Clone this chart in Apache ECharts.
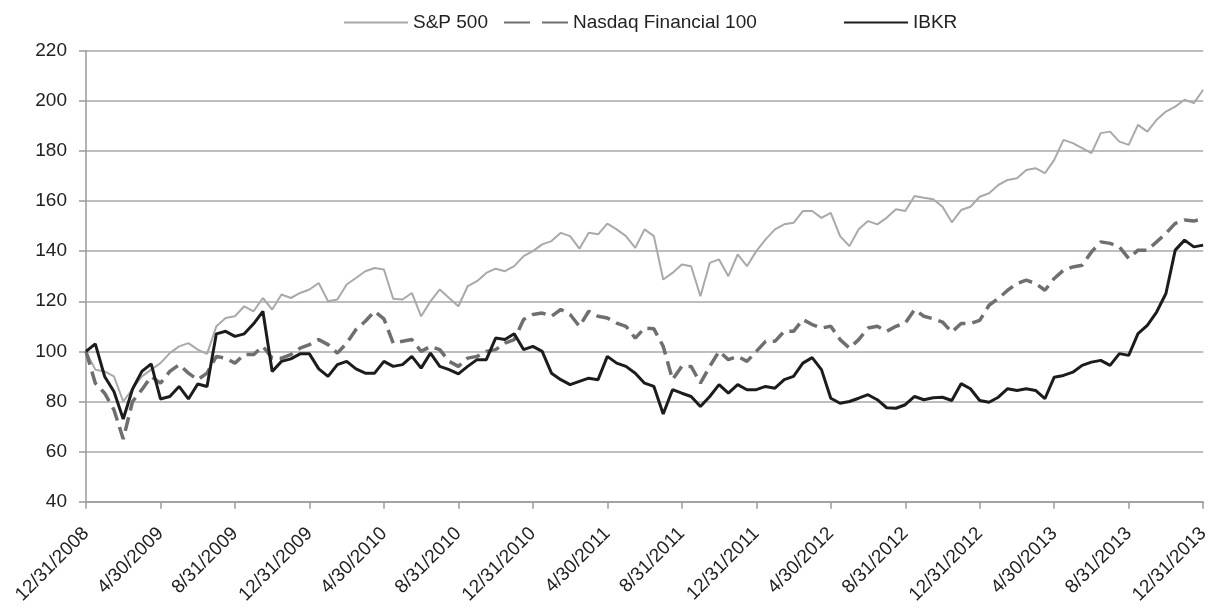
<!DOCTYPE html>
<html>
<head>
<meta charset="utf-8">
<script src="https://cdn.jsdelivr.net/npm/echarts@6/dist/echarts.min.js"></script>
<style>html,body{margin:0;padding:0;background:#fff;}#c{width:1212px;height:608px;}</style>
</head>
<body>
<div id="c"></div>
<script>
const tickLabels = ['12/31/2008','4/30/2009','8/31/2009','12/31/2009','4/30/2010','8/31/2010','12/31/2010','4/30/2011','8/31/2011','12/31/2011','4/30/2012','8/31/2012','12/31/2012','4/30/2013','8/31/2013','12/31/2013'];
const seriesNames = ['S&P 500', 'Nasdaq Financial 100', 'IBKR'];

// half-monthly readings, 12/31/2008 .. 12/31/2013
const sp500 = [
100, 92.7, 92, 90, 80, 85, 90, 92.7, 95.3, 99.3,
102, 103.3, 100.7, 99, 110, 113.3, 114, 118, 116, 121.3,
116.7, 122.7, 121.3, 123.3, 124.7, 127.3, 120, 120.7, 126.7, 129.3,
132, 133.3, 132.7, 121, 120.7, 123.3, 114, 120, 124.7, 121.3,
118, 126, 128, 131.3, 133, 132, 134, 138, 140, 142.7,
144, 147.3, 146, 141, 147.3, 146.7, 151, 148.7, 146, 141.3,
148.7, 146, 128.7, 131.3, 134.7, 134, 122, 135.3, 136.7, 130,
138.7, 134, 140, 144.7, 148.7, 150.7, 151.3, 156, 156, 153.3,
155.3, 146, 142, 148.7, 152, 150.7, 153.3, 156.7, 156, 162,
161.3, 160.7, 157.7, 151.5, 156.4, 157.7, 161.7, 163.1, 166.4, 168.4,
169.1, 172.4, 173.1, 171.1, 176.4, 184.4, 183.1, 181.1, 179.1, 187.1,
187.7, 183.7, 182.4, 190.4, 187.7, 192.4, 195.7, 197.7, 200.4, 199.1,
204.4
];
const nasdaqFin = [
100, 87.3, 83.3, 76.7, 65, 80, 84.7, 90, 87.3, 92,
94.7, 91.3, 88.7, 91.3, 98, 97.3, 95.3, 98.7, 98.7, 102,
97.3, 97.3, 98.7, 101.3, 102.7, 104.7, 102.7, 99.3, 103.3, 108.7,
112, 116, 113, 103.3, 104, 104.7, 100, 102, 100.7, 96,
94, 97.3, 98, 100, 100.7, 103.3, 104.7, 112.7, 114.7, 115.3,
114, 116.7, 114.7, 110, 116, 114, 113.3, 111.3, 110, 105.3,
109.3, 109, 102, 88.7, 94, 94, 87.3, 94, 100, 96.7,
98, 96, 100, 104, 104, 108, 108, 112.7, 110.7, 109.3,
110, 104.7, 101.3, 104.7, 109.3, 110, 108, 110, 111.3, 116.7,
114, 113, 111.7, 107.7, 111.1, 111.1, 112.4, 118.4, 121.1, 124.4,
127.1, 128.4, 127.1, 124.4, 129.1, 132.4, 133.7, 134.4, 139.7, 143.7,
143.1, 141.7, 137.1, 140.4, 140.4, 143.7, 147.1, 151.1, 152.4, 152,
153
];
const ibkr = [
100, 103, 90, 84, 73, 85, 92, 95, 81, 82,
86, 81, 87, 86, 107, 108, 106, 107, 111, 116,
92, 96, 97, 99, 99, 93, 90, 94.7, 96, 93,
91.3, 91.3, 96, 94, 94.7, 98, 93.3, 99.3, 94, 92.7,
91, 94, 96.7, 96.7, 105.3, 104.7, 107, 100.7, 102, 100,
91.3, 88.7, 86.7, 88, 89.3, 88.7, 98, 95.3, 94, 91.3,
87.3, 86, 75, 84.7, 83.3, 82, 78, 82, 86.7, 83.3,
86.7, 84.7, 84.7, 86, 85.3, 88.7, 90, 95.3, 97.5, 92.7,
81.3, 79.3, 80, 81.3, 82.7, 80.7, 77.5, 77.3, 78.7, 82,
80.7, 81.5, 81.7, 80.4, 87.1, 85.1, 80.4, 79.7, 81.7, 85.1,
84.4, 85.1, 84.4, 81.1, 89.7, 90.4, 91.7, 94.4, 95.7, 96.4,
94.4, 99.1, 98.4, 107.1, 110.4, 115.7, 123.1, 140.4, 144.4, 141.7,
142.4
];

const STEP = 8; // points per tick label
const categories = sp500.map((_, i) => String(i));
const FONT = "'Liberation Sans', Arial, Helvetica, sans-serif";
const isTick = (idx) => idx % STEP === 0;
const legendLefts = [338, 498, 838];
const legendDash = [null, [26, 12], null];

const legends = seriesNames.map((name, k) => {
  const lg = {
    data: [name],
    top: 8,
    left: legendLefts[k],
    itemWidth: 64,
    itemHeight: 14,
    itemStyle: {opacity: 0},
    textStyle: {fontSize: 19, color: '#222', fontFamily: FONT},
    selectedMode: false
  };
  if (legendDash[k]) lg.lineStyle = {type: legendDash[k]};
  return lg;
});

const chart = echarts.init(document.getElementById('c'), null, {renderer: 'canvas'});
chart.setOption({
  animation: false,
  backgroundColor: '#ffffff',
  textStyle: {fontFamily: FONT},
  legend: legends,
  grid: {left: 86, right: 5, top: 50.7, bottom: 106.3, containLabel: false},
  xAxis: {
    type: 'category',
    data: categories,
    boundaryGap: false,
    axisLine: {lineStyle: {color: '#9a9a9a', width: 1.5}},
    axisTick: {show: true, interval: isTick, length: 7, lineStyle: {color: '#9a9a9a', width: 1.5}},
    axisLabel: {
      interval: isTick,
      rotate: 45,
      margin: 29,
      fontSize: 19,
      color: '#222',
      fontFamily: FONT,
      formatter: (v, idx) => tickLabels[idx / STEP]
    },
    splitLine: {show: false}
  },
  yAxis: {
    type: 'value',
    min: 40, max: 220, interval: 20,
    axisLine: {show: true, lineStyle: {color: '#9a9a9a', width: 1.5}},
    axisTick: {show: true, length: 7, lineStyle: {color: '#9a9a9a', width: 1.5}},
    axisLabel: {fontSize: 19, color: '#222', margin: 19, fontFamily: FONT},
    splitLine: {lineStyle: {color: '#a8a8a8', width: 1.5}}
  },
  series: [
    {name: seriesNames[0], type: 'line', data: sp500, symbol: 'none',
     lineStyle: {color: '#a9a9a9', width: 2}, itemStyle: {color: '#a9a9a9'}},
    {name: seriesNames[1], type: 'line', data: nasdaqFin, symbol: 'none',
     lineStyle: {color: '#6f6f6f', width: 3.5, type: [14, 7]}, itemStyle: {color: '#6f6f6f'}},
    {name: seriesNames[2], type: 'line', data: ibkr, symbol: 'none',
     lineStyle: {color: '#1c1c1c', width: 3}, itemStyle: {color: '#1c1c1c'}}
  ]
});
</script>
</body>
</html>
